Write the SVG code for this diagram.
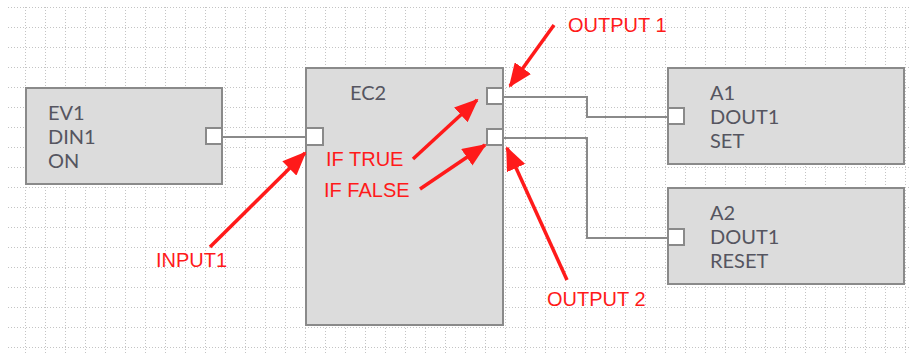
<svg xmlns="http://www.w3.org/2000/svg" width="909" height="353" viewBox="0 0 909 353">
<style>
.grid{fill:none;stroke:#c4c4c4;stroke-width:1;stroke-dasharray:1 2}
.box{fill:#dcdcdc;stroke:#8a8a8a;stroke-width:2}
.port{fill:#ffffff;stroke:#8a8a8a;stroke-width:2}
.wire{fill:none;stroke:#8a8a8a;stroke-width:2}
.lbl{font-family:Lato,"Open Sans",sans-serif;font-size:20px;fill:#555560}
.note{font-family:"Liberation Sans",Arial,sans-serif;font-size:20px;fill:#ff1a1a}
.arrow{fill:none;stroke:#ff1a1a;stroke-width:3.5;marker-end:url(#ah)}
</style>
<defs>
<marker id="ah" markerUnits="userSpaceOnUse" markerWidth="24" markerHeight="20" viewBox="0 0 24 20" refX="22" refY="10" orient="auto">
<path d="M0,0 L24,10 L0,20 Z" fill="#ff1a1a"/>
</marker>
</defs>
<rect width="909" height="353" fill="#ffffff"/>
<g id="grid">
<path class="grid" d="M8 7.5H909M8 27.5H909M8 47.5H909M8 67.5H909M8 87.5H909M8 107.5H909M8 127.5H909M8 147.5H909M8 167.5H909M8 187.5H909M8 207.5H909M8 227.5H909M8 247.5H909M8 267.5H909M8 287.5H909M8 307.5H909M8 327.5H909M8 347.5H909"/>
<path class="grid" d="M25.5 7V353M45.5 7V353M65.5 7V353M85.5 7V353M105.5 7V353M125.5 7V353M145.5 7V353M165.5 7V353M185.5 7V353M205.5 7V353M225.5 7V353M245.5 7V353M265.5 7V353M285.5 7V353M305.5 7V353M325.5 7V353M345.5 7V353M365.5 7V353M385.5 7V353M405.5 7V353M425.5 7V353M445.5 7V353M465.5 7V353M485.5 7V353M505.5 7V353M525.5 7V353M545.5 7V353M565.5 7V353M585.5 7V353M605.5 7V353M625.5 7V353M645.5 7V353M665.5 7V353M685.5 7V353M705.5 7V353M725.5 7V353M745.5 7V353M765.5 7V353M785.5 7V353M805.5 7V353M825.5 7V353M845.5 7V353M865.5 7V353M885.5 7V353M905.5 7V353"/>
</g>
<g id="connectors">
<path class="wire" d="M223 137H305"/>
<path class="wire" d="M504 97H587V117H667"/>
<path class="wire" d="M504 138H587V238H667"/>
</g>
<g id="EV1">
<rect class="box" x="26" y="88" width="196" height="96"/>
<rect class="port" x="206" y="128" width="16" height="16"/>
<text class="lbl" x="48" y="120">EV1</text>
<text class="lbl" x="48" y="144">DIN1</text>
<text class="lbl" x="48" y="168">ON</text>
</g>
<g id="EC2">
<rect class="box" x="306" y="68" width="197" height="257"/>
<rect class="port" x="306" y="128" width="17" height="17"/>
<rect class="port" x="487" y="88" width="16" height="16"/>
<rect class="port" x="487" y="129" width="16" height="16"/>
<text class="lbl" x="350" y="100">EC2</text>
</g>
<g id="A1">
<rect class="box" x="668" y="68" width="236" height="96"/>
<rect class="port" x="668" y="108" width="16" height="16"/>
<text class="lbl" x="710" y="100">A1</text>
<text class="lbl" x="710" y="124">DOUT1</text>
<text class="lbl" x="710" y="148">SET</text>
</g>
<g id="A2">
<rect class="box" x="668" y="188" width="236" height="96"/>
<rect class="port" x="668" y="229" width="16" height="16"/>
<text class="lbl" x="710" y="220">A2</text>
<text class="lbl" x="710" y="244">DOUT1</text>
<text class="lbl" x="710" y="268">RESET</text>
</g>
<g id="annotations">
<path class="arrow" d="M210 247L305 153"/>
<path class="arrow" d="M413 159L477 100"/>
<path class="arrow" d="M420 189L485 145"/>
<path class="arrow" d="M554 25L510 86"/>
<path class="arrow" d="M567 280L507 148"/>
<text class="note" x="568" y="32">OUTPUT 1</text>
<text class="note" x="326" y="166">IF TRUE</text>
<text class="note" x="324" y="197">IF FALSE</text>
<text class="note" x="156" y="267">INPUT1</text>
<text class="note" x="547" y="306">OUTPUT 2</text>
</g>
</svg>
